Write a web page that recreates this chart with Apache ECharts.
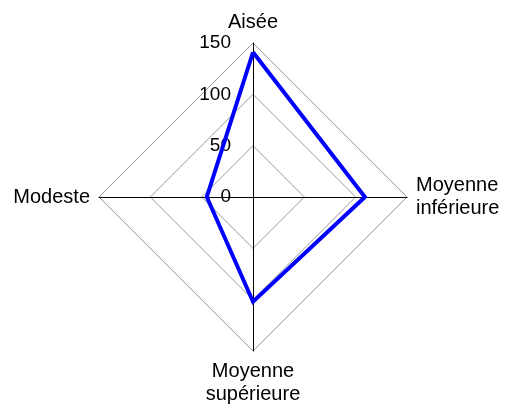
<!DOCTYPE html>
<html>
<head>
<meta charset="utf-8">
<script src="https://cdn.jsdelivr.net/npm/echarts@6/dist/echarts.min.js"></script>
<style>
  html, body { margin: 0; padding: 0; background: #fff; }
  #chart { width: 506px; height: 410px; }
</style>
</head>
<body>
<div id="chart"></div>
<script>
// Radar axes, listed in ECharts' counter-clockwise order starting from the top
const categories = ['Aisée', 'Modeste', 'Moyenne\nsupérieure', 'Moyenne\ninférieure'];
const values = [141, 45, 102, 109];
const axisMax = 150;
const titleText = 'Opinions selon la classe (2015)';

const font = 'Liberation Sans, Arial, Helvetica, sans-serif';

const chart = echarts.init(document.getElementById('chart'), null, { renderer: 'canvas' });

chart.setOption({
  animation: false,
  backgroundColor: '#fff',
  title: {
    text: titleText,
    left: 'center',
    top: -27,
    textStyle: { fontFamily: font, fontSize: 22, fontWeight: 'bold', color: '#000' }
  },
  radar: {
    center: [253, 197],
    radius: 154,
    startAngle: 90,
    shape: 'polygon',
    splitNumber: 3,
    nameGap: 9,
    indicator: categories.map((name, i) => ({
      name: name,
      min: 0,
      max: axisMax,
      // scale labels only along the first (top) axis
      axisLabel: { show: i === 0 }
    })),
    axisName: {
      color: '#000',
      fontFamily: font,
      fontSize: 20,
      lineHeight: 23
    },
    axisLine: { lineStyle: { color: '#000', width: 1 } },
    axisTick: { show: false },
    splitLine: { lineStyle: { color: '#999', width: 1 } },
    splitArea: { show: false },
    axisLabel: {
      show: false,
      color: '#000',
      fontFamily: font,
      fontSize: 19,
      margin: 22
    }
  },
  series: [{
    type: 'radar',
    symbol: 'none',
    lineStyle: { color: '#0000ff', width: 4, join: 'miter' },
    itemStyle: { color: '#0000ff' },
    data: [{ value: values }]
  }]
});
</script>
</body>
</html>
